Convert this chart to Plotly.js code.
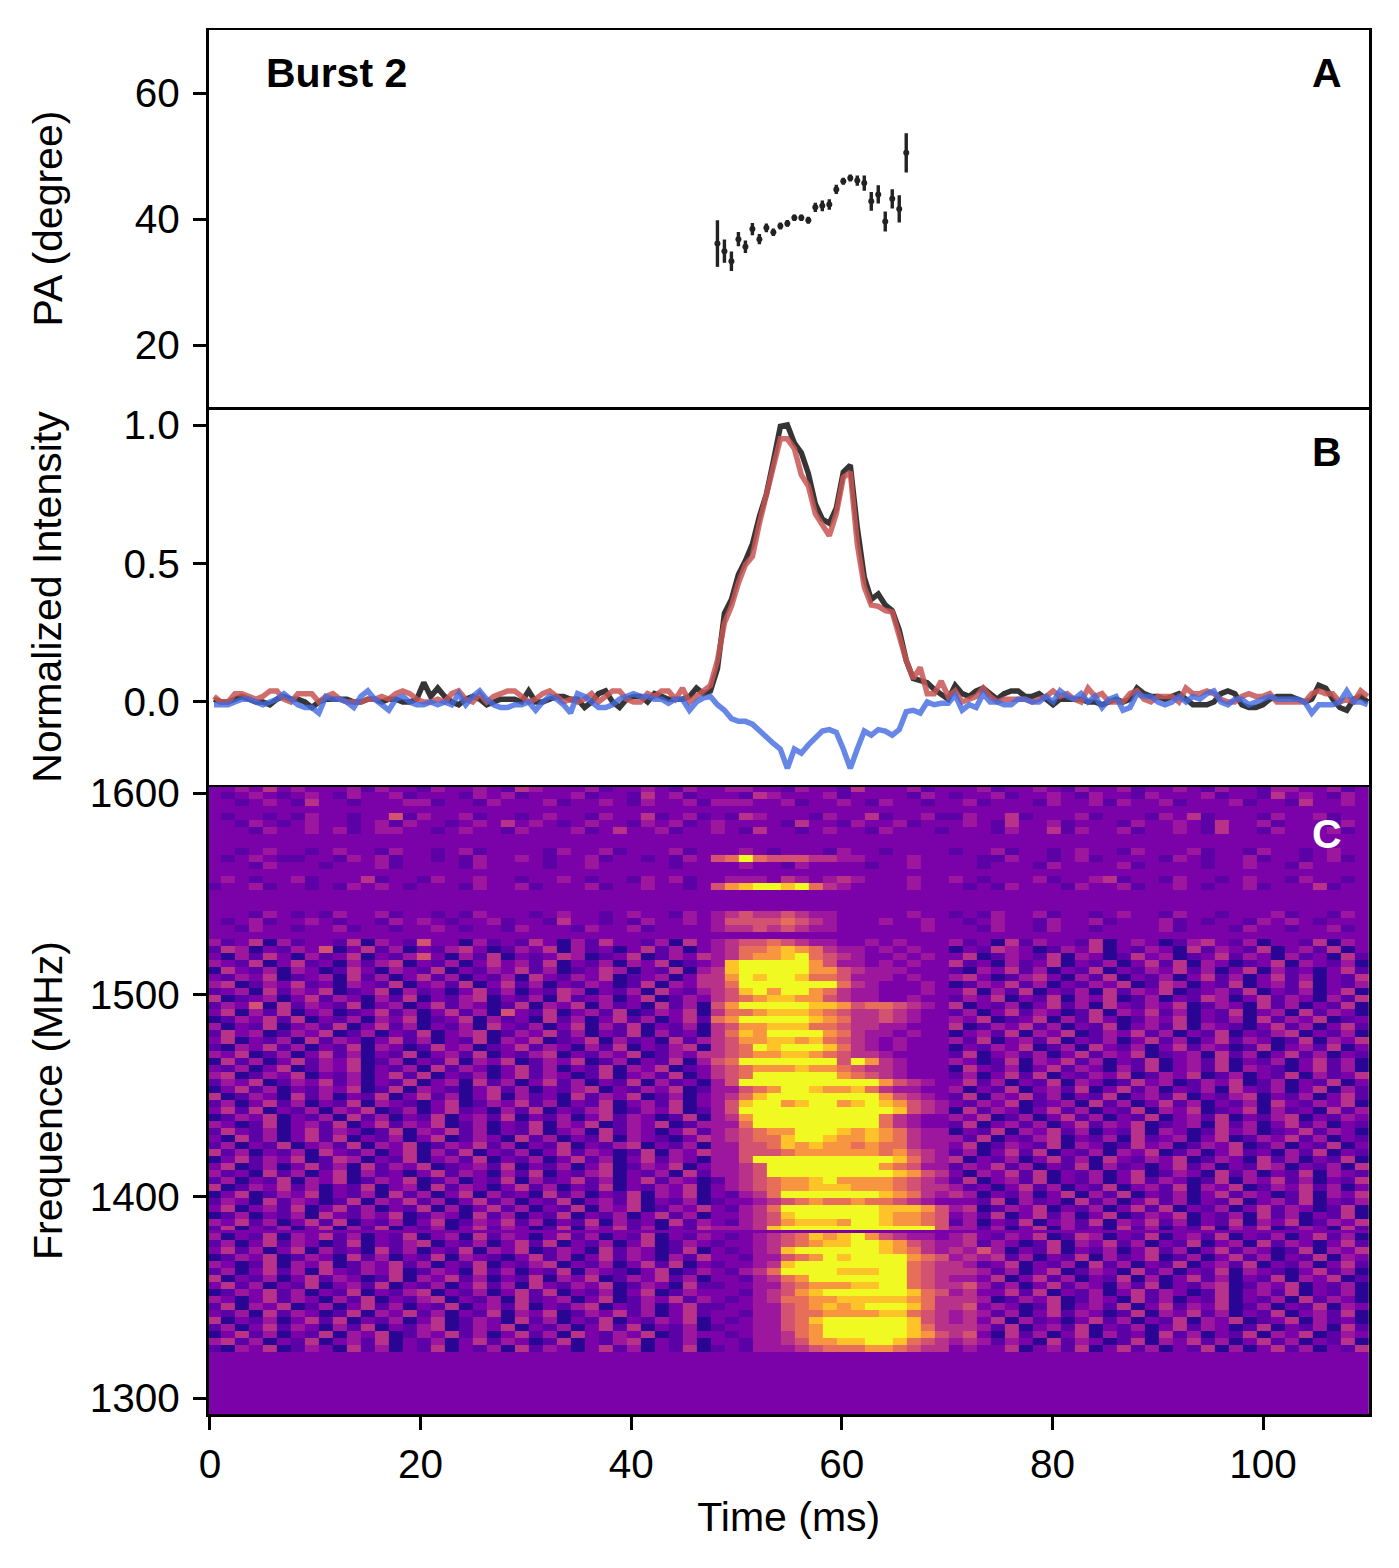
<!DOCTYPE html>
<html>
<head>
<meta charset="utf-8">
<script src="https://cdn.plot.ly/plotly-3.0.1.min.js"></script>
<style>html,body{margin:0;padding:0;background:#fff}</style>
</head>
<body>
<div id="chart" style="width:1399px;height:1568px"></div>
<script>
// panel A: polarisation angle, one point per sample from sample 72 on
const paAngle = [36.1,34.9,33.3,36.8,35.6,38.4,36.8,38.6,37.9,38.9,39.3,40.2,40.2,39.8,41.85,42.1,42.3,44.7,46.0,46.5,46.1,45.7,42.8,43.9,39.6,43.2,41.6,50.5];
const paError = [3.7,1.85,1.56,1.14,1.0,0.98,0.8,0.69,0.58,0.56,0.53,0.53,0.53,0.56,0.74,0.85,0.85,0.74,0.56,0.56,0.82,1.2,1.5,1.45,1.6,1.53,2.17,3.1];

// panel B: normalised profiles
const totalI = [.01,0,0,.01,.02,.01,0,0,-.01,.01,.02,.01,.01,0,-.02,0,.01,.01,.01,.01,0,0,.01,.01,0,.01,.01,0,0,.01,.07,.02,.05,.02,0,-.01,.01,.02,.01,-.01,0,.01,.01,.01,0,.04,0,0,.01,.02,.02,.01,.01,-.02,0,.03,.04,0,-.02,.01,.02,.02,0,.03,.02,
.01,.01,.01,.02,.05,.03,.04,.12,.32,.37,.46,.51,.57,.67,.75,.87,.995,1.0,.935,.90,.825,.715,.66,.645,.70,.83,.855,.63,.45,.37,.39,.35,.33,.26,.15,.085,.08,.07,.045,.03,.01,.06,.03,
.02,.04,.05,.03,.01,.03,.04,.04,.02,.02,.03,.01,-.01,.01,.01,.01,.01,0,0,-.01,0,.01,0,.01,.05,.03,.02,.02,.01,.02,.03,.01,-.01,-.01,-.01,0,.03,.04,.03,-.01,-.02,-.02,-.01,.01,.02,.02,.02,.01,0,.01,.06,.05,.01,-.02,-.03,.01,.02,0];
const linearL = [.02,0,0,.03,.03,.02,.01,.02,.04,.04,.01,0,.03,.03,.03,0,.02,.03,.01,0,0,0,.01,.01,.02,.01,.03,.04,.03,.01,0,0,.01,0,.03,.04,.01,0,.03,0,.02,.03,.04,.04,.02,0,.01,.03,.04,.02,0,.01,0,.01,.03,0,.02,.04,.04,.01,0,0,.03,.02,.04,
.04,.01,.05,0,.02,.04,.06,.15,.285,.345,.43,.495,.525,.645,.74,.85,.95,.95,.915,.82,.78,.68,.64,.60,.68,.81,.83,.57,.415,.35,.345,.33,.325,.235,.15,.085,.125,.03,.03,.075,.02,.04,0,
.01,.02,.05,.02,0,.01,.01,.01,.01,0,.01,.02,.04,.02,.03,.01,0,.05,.02,.03,0,0,0,.03,.04,.01,0,.02,.02,.02,0,.05,.03,.03,.04,.03,.01,0,0,.02,.03,.02,.02,.03,0,0,0,0,0,.03,.04,.03,.03,0,.01,0,.04,.02];
const circularV = [-.01,-.01,-.01,0,.01,.01,0,-.01,0,.01,.03,.01,-.01,-.02,-.02,-.04,.02,.01,.01,0,-.02,.02,.04,.01,-.01,-.03,.01,.02,0,-.01,-.01,0,-.01,0,-.01,.03,-.01,.02,.04,.01,-.01,-.02,-.02,-.01,-.01,0,-.03,0,.02,.01,-.01,-.04,.03,.02,0,-.02,-.02,-.01,.01,.02,.03,.02,.02,.01,.01,
-.005,.01,.01,-.03,0,.015,.02,-.01,-.03,-.06,-.07,-.07,-.08,-.105,-.125,-.15,-.17,-.24,-.17,-.185,-.155,-.13,-.105,-.10,-.11,-.17,-.24,-.17,-.105,-.12,-.10,-.105,-.12,-.10,-.035,-.03,-.04,0,-.01,-.005,-.005,.025,-.03,
-.01,-.02,.03,0,0,-.01,-.01,.01,.01,0,0,.02,0,.04,.02,.01,.03,0,.02,-.02,.01,.02,-.03,-.02,.03,.02,.02,0,-.01,0,.02,0,.02,.01,.03,.04,0,-.01,.01,.01,-.01,0,.01,.02,.01,.01,.01,.01,0,-.04,-.01,-.01,-.01,0,.04,0,0,-.01];

// panel C: dynamic spectrum, digits 0-9 = colour level
// each row: columns 0-35 | columns 36-52 | columns 53-82, "" = flagged channels
const spectrumRows = [
"223242322231322132232143222312232132|23322132214222312|223122321322312232132213322312",
"212321232132231222132312223122142312|22143222312222132|122312232132213222312214232132",
"221232142212223312213222312232132231|33322312232132212|231222132231322312223122142232",
"",
"212212132212251322312212322132241231|21432221322412231|132241222312221324122213223122",
"221321232212313221232423212322132312|32222142213223122|232142231222132232142231222132",
"222132232312332212322132223124223122|32142212322132221|222132241322312232142213222312",
"","",
"221232212322132212312222132231222312|22321222132212222|122312212322132223122132212322",
"212321122132312212132232122312212132|56965554433222322|221132212312222132122312212312",
"222132221222312222132222122322222122|22322132222122322|221222132222312222122322132222",
"",
"232122312224122132232212232122132312|23332432343222322|321222312234122132212322132212",
"122312212132321222132231222312232212|57899896432222322|212132221322312232122312224122",
"","","",
"222132121322312212132221232212322132|34544543322222322|121322312212322132212223122132",
"212312232122132321223122142212132232|35555654322232232|212322132231222312122132321222",
"221322122312212232122132221322312222|34454543322222232|221322132212222312221322122312",
"",
"312403122140321522031214203142213042|34556543322323222|312041322140232013421302214032",
"143021325024130213420132403120241302|34667876433232322|021432013240213204132140231402",
"203142031240213520314021243012401324|34677896543223232|240132140320142301241320312041",
"321402412031340213024231402130324012|38999997533232322|412031240213024140320124032130",
"042130320142032140213241301243021403|48999997754333222|103241302140213241302403120241",
"213240123041302413021304213240123024|47989986653332322|342013420314021302413024130214",
"340132412032140231402413021320140324|46999999964322232|013241302132401430214023140213",
"123041324012403120241302143021304213|45897997643322232|240314021304132401231402130240",
"401230241320314021340213041230240132|45678877543322322|132402140324013021430241320314",
"132504132140230241320140324031204130|57999998875665432|402130241304213240132041302140",
"240314023012413024130521402314013240|46678887654454322|130241320140324130214023041320",
"013241402130324012403120413024130241|67999998764454322|324012403142013240213041324012",
"302140231402413021304213024031402130|45778886654433222|401324130214023140321024130241",
"142301324013021402340132413021403120|46879999764332322|023140324013241302140213402130",
"240213041320241302140324012403120413|45778878654323222|314023140213024130241320140324",
"103241302140320142301241320314021340|45698999864323222|021324013042130241320140231402",
"324013024130214023140213402132401324|45677887654432222|140231302413240123041302413021",
"041302413240130214032401324013021403|56999999959743222|320140324130214023140213024130",
"213024013240213041320241302140324012|45677787765443222|042130241320314023140321024130",
"340132402130241402130241320140231402|45699999976543222|130241402132401324013021403124",
"132401324130214023041302413021403120|35999999999975432|241302140320142301324013021402",
"024130213240140321024130213402132401|33567998778643322|302140231402413021304213024031",
"401320413021402413024031204132401302|34689999999975432|140324130214023140213402130241",
"130241302140321024013241302140231402|35899789978987543|213240123041302413021304213240",
"241402130324013024120314021340132401|35999999999998543|041320241302140324012403120413",
"013240213041302140231402130241320140|34799999999964322|324013024130214023140213402132",
"320140231402413240130214032401324013|33699999999964322|140231302413240123041302413021",
"142130241320140324130214023041320241|34567799987876433|021403241302140320142301241320",
"204130241402130240132041302140321024|34566899877876433|314021340213041230240132413021",
"130214023140324013241302140213402130|33556878776766433|240132140320142301324013021402",
"413021304213024031402130241320140324|33555677777767543|130241402130324013024120314021",
"024132401430214023140213024130241320|33599999999998643|402130241304213240132041302140",
"240130241304132401231402130240132402|33459999999976533|132413021403120241302143021304",
"312041302403120241320314021340213041|33459999999998754|203241402130240132041302140321",
"130214032401324013021403124130241320|13456778977776543|140231402130241320140324130214",
"401324130214023041320241302140213240|23456778887776544|312024130214023140324013241302",
"024013240213041302403120413021403240|21346999999987643|430213024031402130241320140324",
"132041320140324130241302140231402130|12234567667665432|221403120413024130214023140213",
"240231402413021403024130214032401324|21346999999988875|340132402130241402130241320140",
"013021304213240132041302140213024130|22345899999987765|231402413024013240213041302140",
"324130241402130240132413021403120413|21345788879987765|130214023140324130214032401324",
"140213024031402130241320140324130214|33348999999999995|331302403120413021403240132041",
"",
"302140324130214023041320241302140213|21234568789754332|342132401430214023140213024130",
"130241320140213402130241402130240132|12234567889987543|341320140324130214023041320241",
"241302403120413021403240132041320140|21234899999987643|435302140213024130241320140324",
"013240132041302140321024130241320314|22133567989999765|343413021403124013024130214032",
"320140324013241302140213402130241402|12234899999999654|431240213041302140231402130241",
"130241304213240132041302140321024013|21346999988899654|443130240132041302140321024130",
"402130241320140324130214032401324130|22134679999999654|332402413021403024130214032401",
"241302140231402130241304213240132041|12233567778899654|453130241320314021340132402130",
"013241302140213402130241402130240132|22134578999999865|342241402130241320140231402130",
"320241320314021340213041230240132413|21234667788888764|443013240132041302140213041320",
"140324013024130214023140213402130241|12233567878999864|452320140231402413240130214032",
"213041320140324130214032401324130241|22133566777788654|343130241320140324130214023140",
"402130241402130240132041302140213240|21233568999999854|342403120241302140324012403120",
"130241320314021340132402130241402130|12233567999999864|443140231402130241320140213041",
"024130214032401324130241304213240132|21233467999999875|452041302403120413021403240132",
"341302140231402130241320140213402130|22133457788998654|343132041320140324130241302140",
"103240132041302140213041320241302140|12133345666776544|232240231402413021403024130214",
"","","","","","","","",""
];
const thinRows = [63, 64];   // rows one channel high, the others are two

const spectrumColors = ['#2a0593','#5c01a6','#7a02a8','#9c179e','#b93289','#d35171','#e76f5a','#f89540','#fdc328','#f0f921'];
const timeTicks = [0,20,40,60,80,100];
const paTicks = [20,40,60];
const intensityTicks = [0,0.5,1];
const intensityLabels = ['0.0','0.5','1.0'];
const freqTicks = [1300,1400,1500,1600];

const W = 1399, H = 1568;
const FONT = 'Liberation Sans, Arial, sans-serif';
const FS = 41, TICKFS = 40.5;
const sampleMs = 0.664, firstSample = 0.38;
const channelMHz = 1.736, topMHz = 1604;
const COLS = 83;

const px = x => x / W;
const py = y => 1 - y / H;

function fit(s, n) {
  return (s + '2'.repeat(n)).slice(0, n);
}

const z = spectrumRows.map(row => {
  if (row === '') return new Array(COLS).fill(2);
  const p = row.split('|');
  const s = fit(p[0], 36) + fit(p[1], 17) + fit(p[2], 30);
  return s.split('').map(Number);
});

// channel edges
let edges = [topMHz];
spectrumRows.forEach((r, i) => {
  const n = thinRows.includes(i) ? 1 : 2;
  edges.push(edges[i] - n * channelMHz);
});

const colorscale = spectrumColors.map((c, i) => [i / 9, c]);

const data = [
  {
    type: 'scatter', mode: 'markers', xaxis: 'x', yaxis: 'y',
    x0: firstSample + 72 * sampleMs, dx: sampleMs, y: paAngle,
    marker: {color: '#222', size: 6},
    error_y: {type: 'data', array: paError, visible: true, color: '#222', thickness: 3.4, width: 0},
    showlegend: false
  },
  {type: 'scatter', mode: 'lines', xaxis: 'x2', yaxis: 'y2', x0: firstSample, dx: sampleMs, y: totalI,
   line: {color: 'rgba(25,25,25,0.88)', width: 5.5}, showlegend: false},
  {type: 'scatter', mode: 'lines', xaxis: 'x2', yaxis: 'y2', x0: firstSample, dx: sampleMs, y: linearL,
   line: {color: 'rgba(200,85,85,0.85)', width: 5.5}, showlegend: false},
  {type: 'scatter', mode: 'lines', xaxis: 'x2', yaxis: 'y2', x0: firstSample, dx: sampleMs, y: circularV,
   line: {color: 'rgba(65,105,225,0.8)', width: 5.5}, showlegend: false},
  {
    type: 'heatmap', xaxis: 'x3', yaxis: 'y3', z: z, x0: 0.365, dx: 1.329, y: edges,
    zmin: 0, zmax: 9, colorscale: colorscale, showscale: false, zsmooth: false, hoverinfo: 'skip'
  }
];

const frame = {showline: true, mirror: true, linecolor: '#000', linewidth: 2.5, zeroline: false, showgrid: false};
const xRange = [-0.14, 110.06];
const xDomain = [px(208.5), px(1369)];
const tickStyle = {ticks: 'outside', ticklen: 13, tickwidth: 3, tickcolor: '#000', ticklabelstandoff: 5, tickfont: {family: FONT, size: TICKFS, color: '#000'}};

const layout = {
  width: W, height: H,
  margin: {l: 0, r: 0, t: 0, b: 0},
  paper_bgcolor: '#fff', plot_bgcolor: '#fff',
  font: {family: FONT, size: FS, color: '#000'},
  xaxis: Object.assign({}, frame, {domain: xDomain, range: xRange, anchor: 'y', ticks: '', showticklabels: false}),
  yaxis: Object.assign({}, frame, tickStyle, {domain: [py(407), py(30)], anchor: 'x', range: [10.16, 70],
    tickvals: paTicks, title: {text: 'PA (degree)', font: {family: FONT, size: FS}, standoff: 60}}),
  xaxis2: Object.assign({}, frame, {domain: xDomain, range: xRange, anchor: 'y2', showline: false, ticks: '', showticklabels: false}),
  yaxis2: Object.assign({}, frame, tickStyle, {domain: [py(784.5), py(409.5)], anchor: 'x2', range: [-0.298, 1.056],
    tickvals: intensityTicks, ticktext: intensityLabels, title: {text: 'Normalized Intensity', font: {family: FONT, size: FS}, standoff: 49}}),
  xaxis3: Object.assign({}, frame, tickStyle, {domain: xDomain, range: xRange, anchor: 'y3', ticklabelstandoff: 0,
    tickvals: timeTicks, title: {text: 'Time (ms)', font: {family: FONT, size: FS}, standoff: 16}}),
  yaxis3: Object.assign({}, frame, tickStyle, {domain: [py(1414), py(787)], anchor: 'x3', range: [1292.1, 1603],
    tickvals: freqTicks, title: {text: 'Frequence (MHz)', font: {family: FONT, size: FS}, standoff: 15}}),
  annotations: [
    {xref: 'paper', yref: 'paper', x: px(264), y: py(73), xanchor: 'left', yanchor: 'middle', showarrow: false,
     text: '<b>Burst 2</b>', font: {family: FONT, size: FS, color: '#000'}},
    {xref: 'paper', yref: 'paper', x: px(1327), y: py(73), xanchor: 'center', yanchor: 'middle', showarrow: false,
     text: '<b>A</b>', font: {family: FONT, size: FS, color: '#000'}},
    {xref: 'paper', yref: 'paper', x: px(1327), y: py(452), xanchor: 'center', yanchor: 'middle', showarrow: false,
     text: '<b>B</b>', font: {family: FONT, size: FS, color: '#000'}},
    {xref: 'paper', yref: 'paper', x: px(1327), y: py(834), xanchor: 'center', yanchor: 'middle', showarrow: false,
     text: '<b>C</b>', font: {family: FONT, size: FS, color: '#fff'}}
  ]
};

Plotly.newPlot('chart', data, layout, {displayModeBar: false, staticPlot: true});
</script>
</body>
</html>
